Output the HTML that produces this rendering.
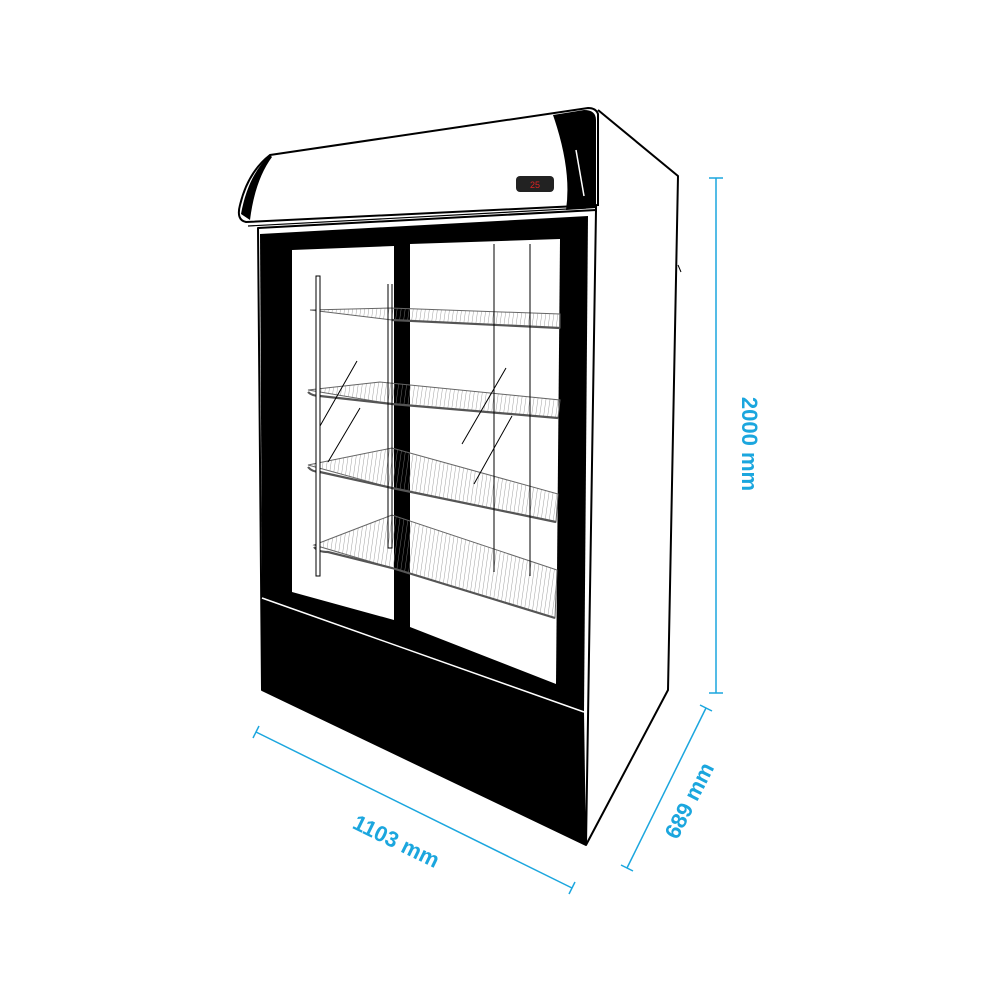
<!DOCTYPE html>
<html><head><style>html,body{margin:0;padding:0;background:#fff;width:1000px;height:1000px;overflow:hidden}</style></head>
<body>
<svg width="1000" height="1000" viewBox="0 0 1000 1000" xmlns="http://www.w3.org/2000/svg">
<defs>
  <pattern id="wire" width="4" height="4" patternUnits="userSpaceOnUse" patternTransform="rotate(8)">
    <line x1="0" y1="0" x2="0" y2="4" stroke="#888" stroke-width="0.8"/>
  </pattern>
</defs>
<g fill="none" stroke="#000" stroke-width="2" stroke-linejoin="round">
  <path d="M598,110 L678,176 L668,690 L586,845" fill="#fff"/>
  <path d="M258,228 L596,210 L586,845 L262,690 Z" fill="#fff"/>
  <line x1="596" y1="112" x2="596" y2="212"/>
  <line x1="678" y1="265" x2="681" y2="272" stroke-width="1"/>
</g>
<path d="M260,234 L588,216 L584,712 L262,598 Z" fill="#000"/>
<path d="M262,598 L584,712 L586,845 L262,690 Z" fill="#000"/>
<line x1="262" y1="598" x2="584" y2="712" stroke="#fff" stroke-width="1.5"/>
<path d="M292,250 L394,246 L394,620 L292,592 Z" fill="#fff"/>
<path d="M410,244 L560,239 L556,684 L410,627 Z" fill="#fff"/>
<!-- shelves -->
<g stroke="#666" stroke-width="1">
  <path d="M310,310 L390,308 L560,314 L560,328 L392,320 Z" fill="url(#wire)"/>
  <path d="M308,390 L380,382 L560,400 L558,418 L392,404 Z" fill="url(#wire)"/>
  <path d="M308,465 L392,448 L558,494 L556,522 L392,488 Z" fill="url(#wire)"/>
  <path d="M314,545 L392,515 L557,570 L555,618 L392,568 Z" fill="url(#wire)"/>
</g>
<g stroke="#555" stroke-width="2.2" fill="none">
  <path d="M392,320 L560,328"/>
  <path d="M308,392 Q312,396 320,396 L392,404 L558,418"/>
  <path d="M308,467 Q312,472 320,472 L392,488 L556,522"/>
  <path d="M314,547 Q318,552 328,552 L392,568 L555,618"/>
</g>
<g fill="none" stroke="#000" stroke-width="1">
  <path d="M316,276 L316,576 L320,576 L320,276 Z" fill="#fff"/>
  <path d="M388,284 L388,548 L392,548 L392,284"/>
  <path d="M494,244 L494,572 M530,244 L530,576"/>
  <path d="M320,426 L357,361 M328,462 L360,408 M462,444 L506,368 M474,484 L512,416"/>
</g>
<!-- canopy -->
<path d="M270,155 L588,108 Q596,108 598,114 L598,205 L246,222 Q236,220 240,205 Q248,172 270,155 Z" fill="#fff" stroke="#000" stroke-width="2"/>
<path d="M270,155 Q248,175 241,214 L250,220 Q255,180 272,157 Z" fill="#000"/>
<path d="M553,115 L584,110 Q596,110 596,120 L596,208 L566,210 Q572,170 553,115 Z" fill="#000"/>
<path d="M576,150 L584,196" stroke="#fff" stroke-width="1.5"/>
<line x1="248" y1="226" x2="586" y2="208" stroke="#000" stroke-width="1.2"/>
<rect x="516" y="176" width="38" height="16" rx="4" fill="#222"/>
<text x="535" y="188" font-family="Liberation Sans, sans-serif" font-size="9" fill="#d22" text-anchor="middle">25</text>
<!-- dimensions -->
<g stroke="#1ba6de" stroke-width="1.5" fill="none">
  <line x1="716" y1="178" x2="716" y2="693"/>
  <line x1="709" y1="178" x2="723" y2="178"/>
  <line x1="709" y1="693" x2="723" y2="693"/>
  <line x1="256" y1="732" x2="572" y2="888"/>
  <line x1="253" y1="738" x2="259" y2="726"/>
  <line x1="569" y1="894" x2="575" y2="882"/>
  <line x1="706" y1="708" x2="627" y2="868"/>
  <line x1="700" y1="705" x2="712" y2="711"/>
  <line x1="621" y1="865" x2="633" y2="871"/>
</g>
<g fill="#1ba6de" font-family="Liberation Sans, sans-serif" font-weight="bold" font-size="22">
  <text transform="translate(742,444) rotate(90)" text-anchor="middle">2000 mm</text>
  <text transform="translate(393,848) rotate(26)" text-anchor="middle">1103 mm</text>
  <text transform="translate(696,804) rotate(-63)" text-anchor="middle">689 mm</text>
</g>
</svg>
</body></html>
